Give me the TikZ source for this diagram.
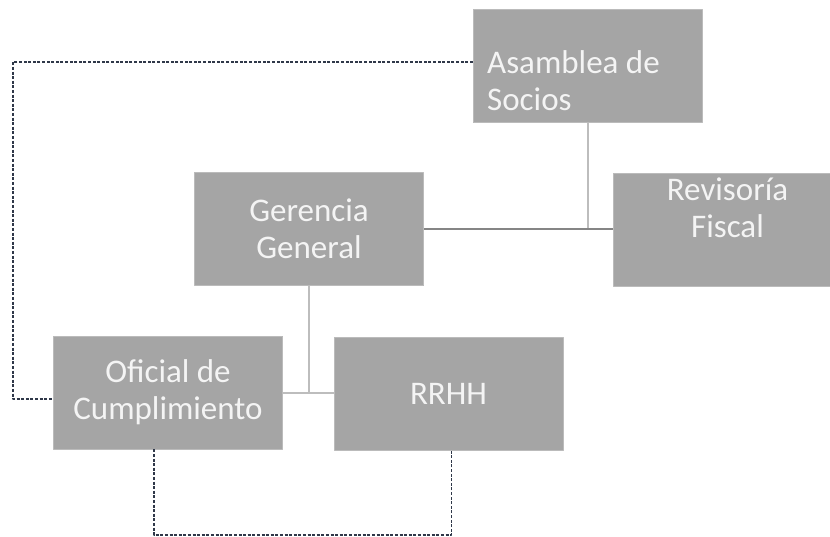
\documentclass[tikz,border=0pt]{standalone}
\usepackage{fontspec}
\setmainfont{Carlito}
\definecolor{boxgray}{HTML}{A5A5A5}
\definecolor{txtwhite}{HTML}{F4F4F4}
\definecolor{linkdark}{HTML}{858585}
\definecolor{linklight}{HTML}{BDBDBD}
\definecolor{dashnavy}{HTML}{2F3849}
\begin{document}
\begin{tikzpicture}[x=1pt, y=-1pt, line join=round,
	unit/.style={fill=boxgray, draw=boxgray!75!white, line width=0.6pt, minimum width=229pt, minimum height=113pt, inner sep=0pt},
	lbl/.style={text=txtwhite, font=\fontsize{33}{37}\selectfont, inner sep=0pt},
	solidlink/.style={line width=2pt},
	dashlink/.style={draw=dashnavy, line width=1.2pt, dash pattern=on 3pt off 1.6pt}]
	\def\W{830} \def\H{536} % Kích thước
	\clip (0,0) rectangle (\W,\H);
	\node[unit] (asam) at (587.5,66) {};
	\node[unit] (ger) at (309,229) {};
	\node[unit] (rev) at (727.5,229.5) {};
	\node[unit] (ofi) at (168,392.5) {};
	\node[unit] (rrhh) at (448.5,393.5) {};
	\node[lbl, anchor=north west, align=left] (asamtxt) at (487,50) {Asamblea de\\Socios};
	\node[lbl, align=center] (gertxt) at (ger.center) {Gerencia\\General};
	\node[lbl, anchor=north, align=center] (revtxt) at ([yshift=-5pt]rev.north) {Revisoría\\Fiscal};
	\node[lbl, align=center] (ofitxt) at (ofi.center) {Oficial de\\Cumplimiento};
	\node[lbl] (rrhhtxt) at (rrhh.center) {RRHH};
	\draw[solidlink, linklight] (asam.south) -- (asam.south |- ger.east);
	\draw[solidlink, linkdark] (ger.east) -- (rev.west |- ger.east);
	\draw[solidlink, linklight] (ger.south) -- (ger.south |- ofi.east);
	\draw[solidlink, linklight] (ofi.east) -- (rrhh.west |- ofi.east);
	\coordinate (lc) at (13,399);
	\coordinate (bot) at (300,535);
	\draw[dashlink] ([yshift=4pt]asam.west) -| (lc) -- (lc -| ofi.west);
	\draw[dashlink] ([xshift=-14pt]ofi.south) |- (bot) -| ([xshift=3pt]rrhh.south);
\end{tikzpicture}
\end{document}
